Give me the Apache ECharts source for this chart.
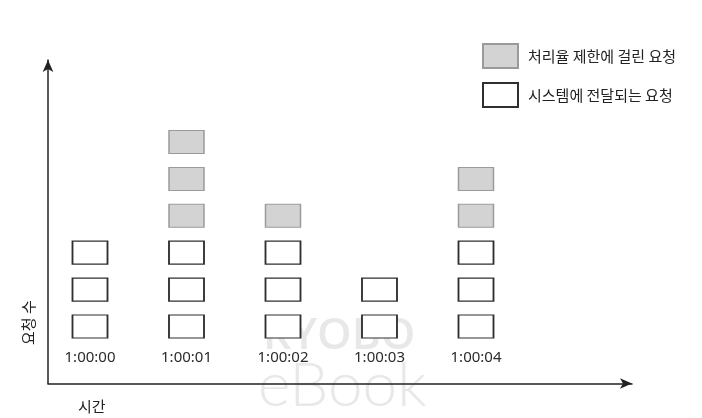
<!DOCTYPE html>
<html>
<head>
<meta charset="utf-8">
<script src="https://cdn.jsdelivr.net/npm/echarts@6/dist/echarts.min.js"></script>
<style>
html,body{margin:0;padding:0;background:#fff;}
#chart{width:702px;height:418px;}
</style>
</head>
<body>
<div id="chart"></div>
<script>
// ---- data ----
var times = ['1:00:00', '1:00:01', '1:00:02', '1:00:03', '1:00:04'];
var passedCounts = [3, 3, 3, 2, 3];      // 시스템에 전달되는 요청
var limitedCounts = [0, 3, 1, 0, 2];     // 처리율 제한에 걸린 요청
var seriesNames = ['처리율 제한에 걸린 요청', '시스템에 전달되는 요청'];
var xAxisTitle = '시간';
var yAxisTitle = '요청 수';

// build unit-box points
var passedPts = [];
var limitedPts = [];
times.forEach(function (t, i) {
  for (var k = 0; k < passedCounts[i]; k++) {
    var item = { value: [i, k] };
    if (k === 0) {
      item.label = { show: true, position: 'bottom', distance: 12, formatter: t,
        color: '#2b2b2b', fontSize: 15, fontFamily: 'Noto Sans' };
    }
    passedPts.push(item);
  }
  for (var j = 0; j < limitedCounts[i]; j++) {
    limitedPts.push({ value: [i, passedCounts[i] + j] });
  }
});

var FONT = '"Noto Sans CJK KR", "Noto Sans", sans-serif';
var chart = echarts.init(document.getElementById('chart'), null, { renderer: 'canvas' });
chart.setOption({
  backgroundColor: '#ffffff',
  animation: false,
  grid: { left: 48, right: 70, top: 60, bottom: 34.5, containLabel: false },
  xAxis: {
    type: 'value', min: -0.4352, max: 5.6166,
    splitLine: { show: false }, axisTick: { show: false }, axisLabel: { show: false },
    axisLine: { show: true, onZero: false, symbol: ['none', 'arrow'], symbolSize: [8, 12],
      lineStyle: { color: '#222', width: 1.5 } }
  },
  yAxis: {
    type: 'value', min: -1.5447, max: 7.222,
    splitLine: { show: false }, axisTick: { show: false }, axisLabel: { show: false },
    axisLine: { show: true, onZero: false, symbol: ['none', 'arrow'], symbolSize: [8, 12],
      lineStyle: { color: '#222', width: 1.5 } }
  },
  legend: {
    orient: 'vertical', left: 482, top: 43, padding: 0,
    itemWidth: 35, itemHeight: 24, itemGap: 13,
    data: [{ name: seriesNames[0], icon: 'rect' }, { name: seriesNames[1], icon: 'rect' }],
    textStyle: { fontSize: 15, color: '#222', fontFamily: FONT, padding: [0, 0, 0, 5] }
  },
  graphic: [
    { type: 'text', left: 263, top: 314, z: -10, silent: true,
      style: { text: 'KYOBO', fill: '#e8e8e8', font: '600 44px "Open Sans", sans-serif' } },
    { type: 'text', left: 258, top: 355, z: -10, silent: true,
      style: { text: 'eBook', fill: '#e8e8e8', font: '300 62px "Lato", "Open Sans", sans-serif' } },
    { type: 'text', left: 78, top: 399,
      style: { text: xAxisTitle, fill: '#222', font: '15px ' + FONT } },
    { type: 'text', x: 21, y: 345, rotation: Math.PI / 2,
      style: { text: yAxisTitle, fill: '#222', font: '15px ' + FONT } }
  ],
  series: [
    {
      name: seriesNames[0], type: 'scatter', symbol: 'rect', symbolSize: [35, 23],
      itemStyle: { color: '#d3d3d3', borderColor: '#9a9a9a', borderWidth: 1.2, opacity: 1 },
      data: limitedPts, z: 5
    },
    {
      name: seriesNames[1], type: 'scatter', symbol: 'rect', symbolSize: [35, 23],
      itemStyle: { color: '#ffffff', borderColor: '#2f2f2f', borderWidth: 1.5, opacity: 1 },
      data: passedPts, z: 5
    }
  ]
});
</script>
</body>
</html>
